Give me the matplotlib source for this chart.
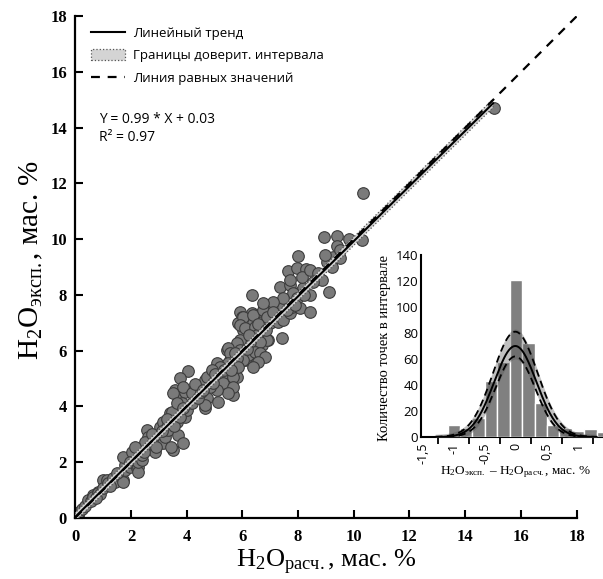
import numpy as np
import matplotlib
matplotlib.use('Agg')
import matplotlib.pyplot as plt
from matplotlib.lines import Line2D
from matplotlib.patches import Patch

plt.rcParams['mathtext.fontset'] = 'custom'
plt.rcParams['mathtext.rm'] = 'Liberation Serif'
plt.rcParams['mathtext.it'] = 'Liberation Serif:italic'
plt.rcParams['mathtext.bf'] = 'Liberation Serif:bold'

# расчётное и экспериментальное содержание воды, мас. %
x_calc = [0.05, 0.11, 0.05, 0.15, 0.25, 0.35, 0.47, 0.55, 0.65, 0.65, 0.83, 0.83, 0.90,
          1.01, 1.01, 1.13, 1.19, 1.37, 1.43, 1.55, 1.72, 1.73, 1.79, 1.78, 1.96, 1.72,
          2.02, 1.96, 2.20, 2.26, 2.26, 2.26, 2.38, 2.38, 2.56, 2.62, 2.62, 2.70, 2.80,
          2.86, 2.92, 3.04, 3.04, 3.16, 3.16, 3.22, 3.28, 3.34, 3.40, 3.52, 3.45, 3.64,
          3.70, 3.64, 3.40, 3.46, 3.88, 3.94, 4.00, 4.06, 3.76, 3.58, 3.70, 3.94, 4.24,
          4.48, 4.66, 4.66, 4.84, 4.96, 5.08, 5.14, 5.26, 5.44, 5.56, 5.68, 5.79, 5.85,
          5.44, 5.56, 5.91, 6.03, 6.09, 6.27, 6.45, 6.51, 6.57, 6.69, 6.93, 6.63, 6.75,
          6.99, 6.99, 5.91, 5.97, 5.85, 6.03, 6.33, 6.39, 6.51, 6.69, 6.33, 6.99, 7.23,
          7.29, 7.47, 7.47, 7.41, 7.71, 7.77, 8.07, 8.43, 8.01, 7.35, 7.71, 8.19, 8.43,
          6.03, 5.91, 6.09, 6.39, 6.45, 6.75, 6.69, 6.51, 6.87, 6.87, 6.63, 6.27, 5.91,
          5.79, 5.49, 5.55, 5.91, 6.21, 6.45, 6.63, 6.81, 6.57, 6.39, 6.03, 5.79, 5.85,
          5.49, 5.20, 5.26, 5.08, 5.32, 5.67, 5.67, 5.49, 5.08, 4.84, 4.72, 4.90, 4.72,
          5.14, 4.66, 3.52, 3.88, 4.18, 3.82, 3.64,
          10.34, 8.94, 9.39, 9.83, 10.28, 9.41, 8.01, 7.65, 7.95, 8.28, 9.11, 8.13, 8.43,
          8.73, 9.03, 9.27, 9.50, 8.85, 8.55, 7.83, 7.47, 7.11, 6.75, 7.95, 7.71, 8.97,
          9.21, 9.50, 15.03,
          2.45, 2.50, 2.75, 2.90, 3.10, 3.30, 3.55, 3.75, 3.85, 2.15, 1.50, 1.25, 0.75,
          4.20, 4.40, 4.50, 4.30, 4.60, 4.95, 5.00, 5.35, 5.60, 5.75, 6.15, 6.25, 6.55,
          6.85, 7.10, 7.60, 7.90, 8.20]
y_exp = [0.16, 0.10, 0.05, 0.20, 0.30, 0.42, 0.64, 0.60, 0.81, 0.75, 0.93, 0.88, 0.85,
         1.35, 1.05, 1.35, 1.23, 1.41, 1.29, 1.53, 1.35, 1.29, 1.71, 1.89, 1.83, 2.19,
         2.37, 2.01, 1.77, 1.83, 1.65, 2.01, 2.07, 2.25, 3.15, 2.91, 2.67, 2.60, 2.49,
         2.37, 2.79, 2.97, 3.27, 2.67, 3.45, 2.91, 3.27, 3.15, 3.39, 2.43, 2.55, 3.45,
         2.97, 3.75, 3.75, 3.81, 2.69, 3.63, 3.87, 5.28, 5.00, 4.59, 4.40, 4.53, 4.59,
         4.70, 3.93, 4.94, 5.06, 5.30, 5.54, 4.70, 5.06, 4.94, 4.70, 4.40, 5.06, 5.54,
         6.02, 5.66, 5.90, 6.14, 5.66, 6.14, 6.26, 5.66, 5.96, 6.20, 6.38, 6.62, 6.86,
         6.98, 7.34, 7.40, 7.22, 6.98, 6.74, 7.34, 6.98, 7.28, 7.34, 7.99, 7.46, 7.22,
         7.04, 7.10, 7.58, 6.44, 7.34, 7.58, 7.52, 7.40, 8.06, 8.30, 8.36, 8.24, 7.99,
         7.22, 6.92, 6.80, 7.28, 6.86, 7.45, 7.04, 6.56, 7.22, 6.38, 6.32, 6.32, 6.38,
         6.26, 6.08, 5.90, 6.02, 5.84, 5.96, 5.90, 5.78, 5.60, 5.42, 5.66, 5.72, 5.42,
         5.54, 5.42, 5.12, 4.94, 4.82, 5.06, 4.70, 4.46, 4.58, 4.70, 5.06, 5.30, 4.29,
         4.17, 4.05, 4.46, 4.70, 4.46, 4.11, 4.11,
         11.67, 10.09, 10.13, 10.01, 9.97, 9.76, 9.40, 8.84, 8.95, 8.93, 8.12, 8.65, 8.89,
         8.77, 9.19, 9.37, 9.61, 8.54, 8.48, 8.06, 7.88, 7.76, 7.70, 7.88, 8.54, 9.43,
         9.01, 9.31, 14.71,
         2.35, 2.70, 3.00, 2.55, 3.10, 3.55, 3.30, 3.60, 3.95, 2.55, 1.60, 1.15, 0.70,
         4.10, 4.30, 4.50, 4.80, 4.60, 4.85, 5.15, 5.30, 5.30, 5.90, 6.05, 6.55, 6.95,
         6.75, 7.40, 7.45, 7.65, 8.00]

# линейный тренд Y = 0.99 * X + 0.03
slope, intercept = 0.99, 0.03
trend_x = [0.0, 15.0]
ci_half = 0.15

# гистограмма отклонений
bin_centers = [-1.0, -0.8, -0.6, -0.4, -0.2, 0.0, 0.2, 0.4, 0.6, 0.8, 1.0, 1.2, 1.4]
counts = [9, 7, 15, 43, 58, 121, 72, 26, 9, 7, 5, 6, 4]
# нормальное распределение: центр, пик, сигма (оценка и границы)
fit_mu = -0.01
fit_peak, fit_sigma = 70, 0.34
up_peak, up_sigma = 81, 0.36
lo_peak, lo_sigma = 62, 0.32

fig = plt.figure(figsize=(6.03, 5.79), dpi=100)
ax = fig.add_axes([0.1249, 0.1059, 0.8313, 0.8658])

xs = np.linspace(trend_x[0], trend_x[1], 50)
ys = slope * xs + intercept
ax.scatter(x_calc, y_exp, s=70, facecolor='#7a7a7a', edgecolor='#3c3c3c', linewidth=0.8, zorder=2)
ax.fill_between(xs, ys - ci_half, ys + ci_half, facecolor='#d4d4d4', edgecolor='#555555',
                linestyle=':', linewidth=0.9, zorder=3)
ax.plot(xs, ys, color='black', lw=1.5, zorder=4)
ax.plot([0, 18], [0, 18], color='black', lw=1.6, dashes=(4, 3.5), zorder=4)

ax.set_xlim(0, 18)
ax.set_ylim(0, 18)
ax.set_xticks(range(0, 19, 2))
ax.set_yticks(range(0, 19, 2))
for s in ['top', 'right']:
    ax.spines[s].set_visible(False)
for s in ['left', 'bottom']:
    ax.spines[s].set_linewidth(1.6)
ax.tick_params(direction='in', length=6, width=1.5, pad=8)
for lab in ax.get_xticklabels() + ax.get_yticklabels():
    lab.set_fontfamily('Liberation Serif')
    lab.set_fontweight('bold')
    lab.set_fontsize(12)
ax.tick_params(axis='y', pad=6)

ax.set_xlabel('H$_\\mathrm{2}$O$_\\mathrm{расч.}$, мас. %', fontfamily='Liberation Serif',
              fontsize=19, labelpad=2)
ax.set_ylabel('H$_\\mathrm{2}$O$_\\mathrm{эксп.}$, мас. %', fontfamily='Liberation Serif',
              fontsize=21)
ax.yaxis.set_label_coords(-0.06, 0.514)

handles = [Line2D([], [], color='black', lw=1.5),
           Patch(facecolor='#d4d4d4', edgecolor='#555555', linestyle=':', linewidth=0.9),
           Line2D([], [], color='black', lw=1.6, dashes=(4, 3.5))]
labels = ['Линейный тренд', 'Границы доверит. интервала', 'Линия равных значений']
ax.legend(handles, labels, loc='upper left', bbox_to_anchor=(0.005, 1.006), frameon=False,
          prop={'family': 'Open Sans', 'size': 9.5}, handlelength=2.6, handleheight=0.9,
          handletextpad=0.6, labelspacing=0.72, borderaxespad=0.6)
ax.text(0.047, 0.795, 'Y = 0.99 * X + 0.03', transform=ax.transAxes, fontfamily='Open Sans',
        fontsize=10, va='center')
ax.text(0.047, 0.758, 'R² = 0.97', transform=ax.transAxes, fontfamily='Open Sans',
        fontsize=10, va='center')

# вставка: гистограмма
ins = fig.add_axes([421 / 603, 142 / 579, 188 / 603, 182 / 579])
ins.patch.set_alpha(0)
ins.bar(bin_centers, counts, width=0.2, color='#808080', edgecolor='white', linewidth=1, zorder=2)
gx = np.linspace(-1.3, 1.3, 200)
fit = fit_peak * np.exp(-(gx - fit_mu) ** 2 / (2 * fit_sigma ** 2))
up = up_peak * np.exp(-(gx - fit_mu) ** 2 / (2 * up_sigma ** 2))
lo = lo_peak * np.exp(-(gx - fit_mu) ** 2 / (2 * lo_sigma ** 2))
ins.fill_between(gx, lo - 2, up + 2, color='#4d4d4d', alpha=0.35, lw=0, zorder=3)
ins.plot(gx, up, color='black', lw=1.3, dashes=(4, 2.5), zorder=4)
ins.plot(gx, lo, color='black', lw=1.3, dashes=(4, 2.5), zorder=4)
ins.plot(gx, fit, color='black', lw=1.4, zorder=5)

ins.set_xlim(-1.53, 1.5)
ins.set_ylim(0, 140)
ins.set_yticks(range(0, 141, 20))
ins.set_xticks([-1.5, -1.0, -0.5, 0.0, 0.5, 1.0, 1.5])
ins.set_xticklabels(['-1,5', '-1', '-0,5', '0', '0,5', '1', '1,5'], rotation=90,
                    fontfamily='Open Sans', fontsize=9)
ins.set_xticks([-1.25, -0.75, -0.25, 0.25, 0.75, 1.25], minor=True)
ins.tick_params(axis='x', which='major', length=0, pad=4)
ins.tick_params(axis='x', which='minor', direction='out', length=5, width=1.3)
ins.tick_params(axis='y', length=0, pad=2)
for lab in ins.get_yticklabels():
    lab.set_fontfamily('Open Sans')
    lab.set_fontsize(9.5)
for s in ['top', 'right']:
    ins.spines[s].set_visible(False)
for s in ['left', 'bottom']:
    ins.spines[s].set_linewidth(1.5)
    ins.spines[s].set_zorder(1)
ins.set_ylabel('Количество точек в интервале', fontfamily='Liberation Serif', fontsize=10.5)
ins.yaxis.set_label_coords(-0.16, 0.49)
ins.set_xlabel('H$_\\mathrm{2}$O$_\\mathrm{эксп.}$ – H$_\\mathrm{2}$O$_\\mathrm{расч.}$, мас. %',
               fontfamily='Liberation Serif', fontsize=9.5, labelpad=0)

fig.savefig('out.png', dpi=100)
